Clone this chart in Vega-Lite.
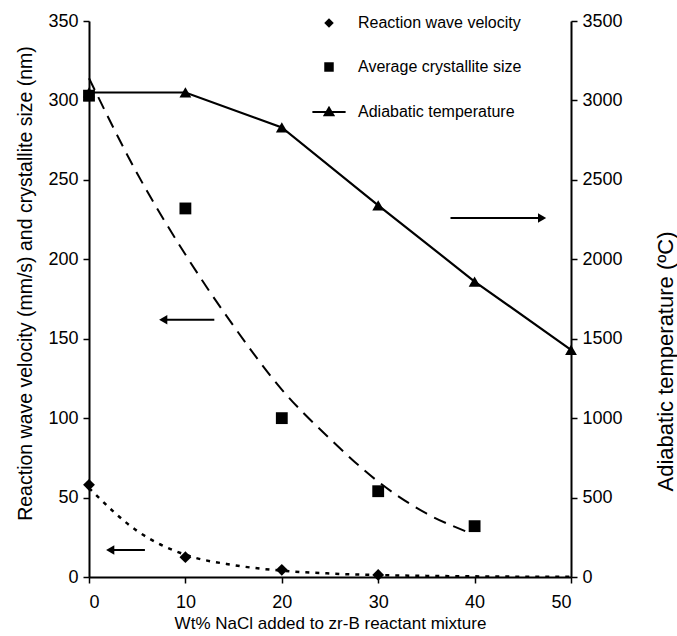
{
  "$schema": "https://vega.github.io/schema/vega-lite/v6.json",
  "autosize": "none",
  "width": 482,
  "height": 556,
  "padding": {"left": 89, "top": 21, "right": 106, "bottom": 59},
  "background": "white",
  "config": {
    "view": {"stroke": null},
    "font": "Liberation Sans",
    "axis": {
      "grid": false,
      "domainColor": "black",
      "domainWidth": 2,
      "tickColor": "black",
      "tickWidth": 1.5,
      "tickSize": 6,
      "labelColor": "black",
      "labelFont": "Liberation Sans",
      "labelFontSize": 18,
      "titleFont": "Liberation Sans",
      "titleFontSize": 18,
      "titleFontWeight": "normal",
      "titleColor": "black",
      "format": "d"
    },
    "legend": {
      "labelFont": "Liberation Sans",
      "labelFontSize": 16,
      "labelColor": "black",
      "labelLimit": 0
    }
  },
  "datasets": {
    "pts": [
      {"wt": 0, "val": 58, "series": "Reaction wave velocity"},
      {"wt": 10, "val": 12.5, "series": "Reaction wave velocity"},
      {"wt": 20, "val": 4.5, "series": "Reaction wave velocity"},
      {"wt": 30, "val": 1.3, "series": "Reaction wave velocity"},
      {"wt": 0, "val": 303, "series": "Average crystallite size"},
      {"wt": 10, "val": 232, "series": "Average crystallite size"},
      {"wt": 20, "val": 100, "series": "Average crystallite size"},
      {"wt": 30, "val": 54, "series": "Average crystallite size"},
      {"wt": 40, "val": 32, "series": "Average crystallite size"}
    ],
    "temp": [
      {"wt": 0, "temp": 3050},
      {"wt": 10, "temp": 3050},
      {"wt": 20, "temp": 2830},
      {"wt": 30, "temp": 2340},
      {"wt": 40, "temp": 1860},
      {"wt": 50, "temp": 1430}
    ],
    "fitSize": [
      {"wt": 0, "val": 314},
      {"wt": 5, "val": 254},
      {"wt": 10, "val": 203},
      {"wt": 15, "val": 158},
      {"wt": 20, "val": 118},
      {"wt": 25, "val": 87},
      {"wt": 30, "val": 60},
      {"wt": 35, "val": 40},
      {"wt": 39.6, "val": 27.5}
    ],
    "fitVel": [
      {"wt": 0, "val": 56},
      {"wt": 5, "val": 29},
      {"wt": 10, "val": 14},
      {"wt": 15, "val": 7.5},
      {"wt": 20, "val": 4},
      {"wt": 25, "val": 2.2},
      {"wt": 30, "val": 1.2},
      {"wt": 35, "val": 0.7},
      {"wt": 40, "val": 0.4},
      {"wt": 45, "val": 0.2},
      {"wt": 50, "val": 0.1}
    ],
    "arrows": [
      {"x1": 37.5, "x2": 47, "y": 226, "tip": 47, "dir": "right"},
      {"x1": 7.7, "x2": 13, "y": 162, "tip": 7.7, "dir": "left"},
      {"x1": 2.2, "x2": 5.8, "y": 17, "tip": 2.2, "dir": "left"}
    ]
  },
  "encoding": {
    "x": {
      "field": "wt",
      "type": "quantitative",
      "scale": {"domain": [0, 50], "nice": false},
      "axis": {
        "values": [0, 10, 20, 30, 40, 50],
        "title": "Wt% NaCl added to zr-B reactant mixture",
        "titleFontSize": 17,
        "labelPadding": 10,
        "titlePadding": 4
      }
    }
  },
  "layer": [
    {
      "encoding": {
        "y": {
          "field": "val",
          "type": "quantitative",
          "scale": {"domain": [0, 350], "nice": false},
          "axis": {
            "orient": "left",
            "values": [0, 50, 100, 150, 200, 250, 300, 350],
            "title": "Reaction wave velocity (mm/s) and crystallite size (nm)",
            "titleFontSize": 19.5,
            "titleX": -64,
            "titleY": 262,
            "titleAngle": 270,
            "titleAlign": "center",
            "titleBaseline": "middle",
            "labelPadding": 5
          }
        }
      },
      "layer": [
        {
          "data": {"name": "fitSize"},
          "mark": {"type": "line", "color": "black", "strokeWidth": 2, "strokeDash": [13, 8], "interpolate": "monotone"}
        },
        {
          "data": {"name": "fitVel"},
          "mark": {"type": "line", "color": "black", "strokeWidth": 2.5, "strokeDash": [4, 6], "interpolate": "monotone"}
        },
        {
          "data": {"name": "pts"},
          "mark": {"type": "point", "filled": true, "color": "black", "opacity": 1, "size": 140},
          "encoding": {
            "shape": {
              "field": "series",
              "type": "nominal",
              "scale": {
                "domain": ["Reaction wave velocity", "Average crystallite size", "Adiabatic temperature"],
                "range": ["diamond", "square", "M-3.5,-0.22H3.5V0.22H-3.5ZM-1.3,0.9L0,-1.3L1.3,0.9Z"]
              },
              "legend": {
                "title": null,
                "orient": "none",
                "legendX": 232,
                "legendY": -6,
                "rowPadding": 28,
                "symbolSize": 90,
                "symbolFillColor": "black",
                "symbolStrokeColor": "black",
                "symbolStrokeWidth": 1,
                "symbolOpacity": 1,
                "labelOffset": 21,
                "labelLimit": 0
              }
            }
          }
        },
        {
          "data": {"name": "arrows"},
          "mark": {"type": "rule", "color": "black", "strokeWidth": 2},
          "encoding": {
            "x": {"field": "x1", "type": "quantitative"},
            "x2": {"field": "x2"},
            "y": {"field": "y", "type": "quantitative"}
          }
        },
        {
          "data": {"name": "arrows"},
          "transform": [{"filter": "datum.dir == 'left'"}],
          "mark": {"type": "point", "shape": "triangle-left", "filled": true, "color": "black", "opacity": 1, "size": 90},
          "encoding": {
            "x": {"field": "tip", "type": "quantitative"},
            "y": {"field": "y", "type": "quantitative"}
          }
        },
        {
          "data": {"name": "arrows"},
          "transform": [{"filter": "datum.dir == 'right'"}],
          "mark": {"type": "point", "shape": "triangle-right", "filled": true, "color": "black", "opacity": 1, "size": 90},
          "encoding": {
            "x": {"field": "tip", "type": "quantitative"},
            "y": {"field": "y", "type": "quantitative"}
          }
        }
      ]
    },
    {
      "data": {"name": "temp"},
      "encoding": {
        "y": {
          "field": "temp",
          "type": "quantitative",
          "scale": {"domain": [0, 3500], "nice": false},
          "axis": {
            "orient": "right",
            "values": [0, 500, 1000, 1500, 2000, 2500, 3000, 3500],
            "title": "Adiabatic temperature (ºC)",
            "titleFontSize": 22,
            "titleX": 94,
            "titleY": 340,
            "titleAngle": 270,
            "titleAlign": "center",
            "titleBaseline": "middle",
            "labelPadding": 5
          }
        }
      },
      "layer": [
        {
          "mark": {"type": "line", "color": "black", "strokeWidth": 2.2}
        },
        {
          "mark": {"type": "point", "shape": "triangle-up", "filled": true, "color": "black", "opacity": 1, "size": 140}
        }
      ]
    }
  ],
  "resolve": {"scale": {"y": "independent"}}
}
